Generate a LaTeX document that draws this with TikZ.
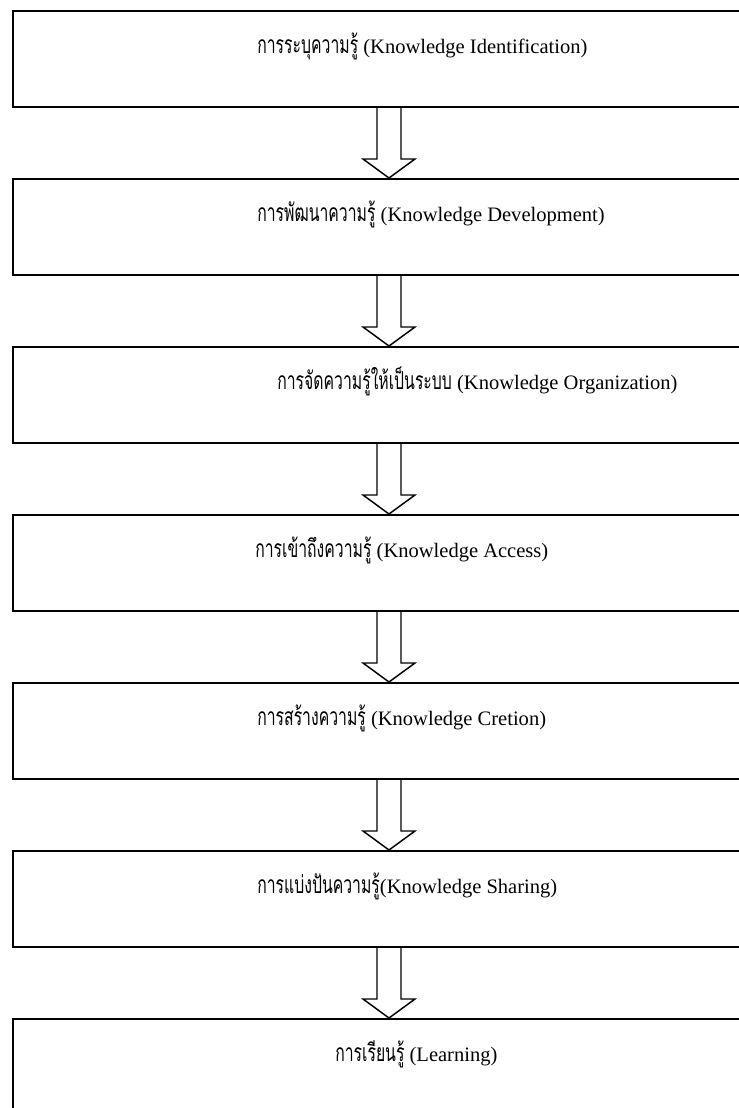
\documentclass[tikz,border=0pt]{standalone}
\usepackage{fontspec}
\setmainfont{Liberation Serif}
\newfontfamily\thaifont[Script=Thai,Scale=1.2,FakeStretch=0.64]{Loma}
\usetikzlibrary{calc}

\newcommand\thaitext[1]{{\thaifont #1}}

\tikzset{
  stagebox/.style={draw, line width=1.2pt, minimum width=575pt, minimum height=72pt,
    anchor=north west, inner sep=0pt},
  stagelabel/.style={anchor=base west, inner sep=0pt, font=\fontsize{15.4pt}{18pt}\selectfont},
  fatarrow/.style={draw, line width=1.1pt, line join=miter},
}

% hollow block arrow from the bottom of one stage to the top of the next
\newcommand\stagearrow[2]{%
  \draw[fatarrow]
    ($(#1.south -| ax)+(-12,0)$) -- ($(#2.north -| ax)+(-12,-19)$)
    -- ($(#2.north -| ax)+(-26,-19)$) -- (#2.north -| ax)
    -- ($(#2.north -| ax)+(26,-19)$) -- ($(#2.north -| ax)+(12,-19)$)
    -- ($(#1.south -| ax)+(12,0)$);}

\begin{document}
\begin{tikzpicture}[x=0.75pt,y=-0.75pt]
  \useasboundingbox (0,0) rectangle (739,1108);
  \coordinate (ax) at (389,0);

  % the seven stages
  \node[stagebox] (b1) at (12,10)   {};
  \node[stagebox] (b2) at (12,178)  {};
  \node[stagebox] (b3) at (12,346)  {};
  \node[stagebox] (b4) at (12,514)  {};
  \node[stagebox] (b5) at (12,682)  {};
  \node[stagebox] (b6) at (12,850)  {};
  \node[stagebox] (b7) at (12,1018) {};

  \node[stagelabel] (t1) at (257,53)   {\thaitext{การระบุความรู้} (Knowledge Identification)};
  \node[stagelabel] (t2) at (257,221)  {\thaitext{การพัฒนาความรู้} (Knowledge Development)};
  \node[stagelabel] (t3) at (277,389)  {\thaitext{การจัดความรู้ให้เป็นระบบ} (Knowledge Organization)};
  \node[stagelabel] (t4) at (255,557)  {\thaitext{การเข้าถึงความรู้} (Knowledge Access)};
  \node[stagelabel] (t5) at (257,725)  {\thaitext{การสร้างความรู้} (Knowledge Cretion)};
  \node[stagelabel] (t6) at (257,893)  {\thaitext{การแบ่งปันความรู้}(Knowledge Sharing)};
  \node[stagelabel] (t7) at (335,1061) {\thaitext{การเรียนรู้} (Learning)};

  % arrows between consecutive stages
  \stagearrow{b1}{b2}
  \stagearrow{b2}{b3}
  \stagearrow{b3}{b4}
  \stagearrow{b4}{b5}
  \stagearrow{b5}{b6}
  \stagearrow{b6}{b7}
\end{tikzpicture}
\end{document}
